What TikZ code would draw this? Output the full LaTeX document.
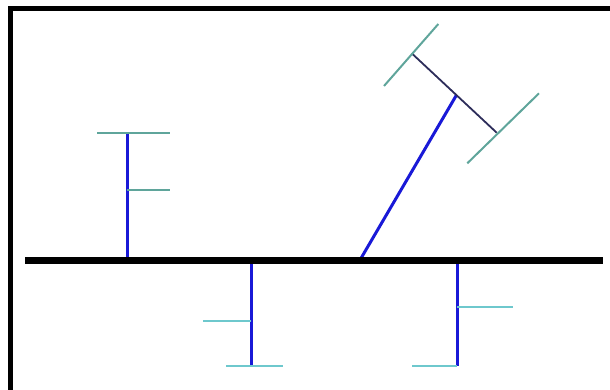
\documentclass[tikz,border=0pt]{standalone}
\usepackage{tikz}
\usetikzlibrary{calc}
\definecolor{stemblue}{RGB}{25,25,215}
\definecolor{barteal}{RGB}{95,165,155}
\definecolor{barcyan}{RGB}{110,200,205}
\definecolor{linknavy}{RGB}{45,45,90}
\tikzset{
  frameline/.style={draw=black, line width=5pt},
  trunkline/.style={draw=black, line width=7pt},
  stemline/.style={draw=stemblue, line width=3pt},
  linkline/.style={draw=linknavy, line width=1.8pt},
  barline/.style={draw=barteal, line width=2pt},
  barline-light/.style={draw=barcyan, line width=2pt}
}

\begin{document}
\begin{tikzpicture}[x=1pt, y=-1pt]
  \useasboundingbox (0,0) rectangle (610,389);

  % frame (only top and left edges show)
  \coordinate (fbl) at (10.5,395);
  \coordinate (ftl) at (10.5,8);
  \coordinate (ftr) at (615,8);
  \draw[frameline] (fbl) -- (ftl) -- (ftr);

  % branch up-left
  \coordinate (a0) at (127,260);
  \coordinate (a1) at (127,133);
  \coordinate (a2) at (127,190);
  \coordinate (aL) at (97,133);
  \coordinate (aR) at (170,133);
  \coordinate (aT) at (170,190);
  \draw[stemline] (a0) -- (a1);
  \draw[barline] (aL) -- (aR);
  \draw[barline] (a2) -- (aT);

  % branch down-left
  \coordinate (b0) at (251,260);
  \coordinate (b1) at (251,366);
  \coordinate (b2) at (251,321);
  \coordinate (bL) at (226,366);
  \coordinate (bR) at (283,366);
  \coordinate (bT) at (203,321);
  \draw[stemline] (b0) -- (b1);
  \draw[barline-light] (bL) -- (bR);
  \draw[barline-light] (bT) -- (b2);

  % branch slanted
  \coordinate (c0) at (360,260);
  \coordinate (c1) at (456.5,95);
  \coordinate (cA) at (411.7,53.3);
  \coordinate (cB) at (496.7,132.7);
  \coordinate (cA1) at (384,86);
  \coordinate (cA2) at (438.3,24);
  \coordinate (cB1) at (467.3,163.3);
  \coordinate (cB2) at (539,93.3);
  \draw[stemline] (c0) -- (c1);
  \draw[linkline] (cA) -- (cB);
  \draw[barline] (cA1) -- (cA2);
  \draw[barline] (cB1) -- (cB2);

  % branch down-right
  \coordinate (d0) at (457,260);
  \coordinate (d1) at (457,366);
  \coordinate (d2) at (457,307);
  \coordinate (dL) at (412,366);
  \coordinate (dT) at (513,307);
  \draw[stemline] (d0) -- (d1);
  \draw[barline-light] (dL) -- (d1);
  \draw[barline-light] (d2) -- (dT);

  % trunk
  \coordinate (t0) at (25,260);
  \coordinate (t1) at (603,260);
  \draw[trunkline] (t0) -- (t1);
\end{tikzpicture}
\end{document}
